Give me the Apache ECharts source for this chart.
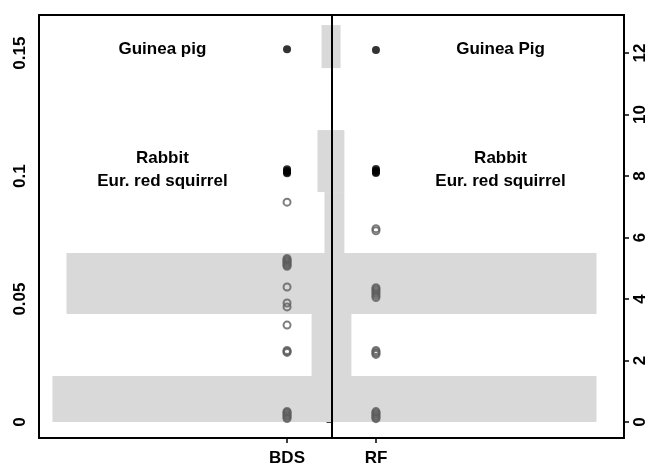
<!DOCTYPE html>
<html>
<head>
<meta charset="utf-8">
<script src="https://cdn.jsdelivr.net/npm/echarts@6/dist/echarts.min.js"></script>
<style>
  html, body { margin: 0; padding: 0; background: #fff; }
  #chart { width: 655px; height: 464px; }
</style>
</head>
<body>
<div id="chart"></div>
<script>
// histogram bins (left-axis units), bar lengths as share of half width
const binEdges = [0, 0.0187, 0.0439, 0.0687, 0.0935, 0.1187, 0.1439, 0.1614];
const bdsWidths = [0.954, 0.068, 0.906, 0.024, 0.048, 0, 0.034];
const rfWidths = [0.906, 0.068, 0.906, 0.044, 0.044, 0, 0.031];

// BDS values (left axis)
const bdsBlack = [0.1516, 0.1028, 0.1022, 0.1016, 0.1012];
const bdsGrey = [0.0894,
                 0.0665, 0.0660, 0.0656, 0.0651, 0.0647, 0.0642, 0.0637, 0.0633,
                 0.0549,
                 0.0484, 0.0468,
                 0.0394,
                 0.0291, 0.0287, 0.0283,
                 0.0043, 0.0039, 0.0034, 0.0029, 0.0024, 0.0019, 0.0014];
// RF values (right axis)
const rfBlack = [12.1, 8.23, 8.18, 8.13, 8.10];
const rfGrey = [6.29, 6.22,
                4.37, 4.33, 4.28, 4.22, 4.17, 4.11, 4.05,
                2.33, 2.28, 2.24, 2.20,
                0.34, 0.30, 0.26, 0.22, 0.18, 0.14, 0.11];

const groupNames = ['BDS', 'RF'];
const leftTicks = [0, 0.05, 0.1, 0.15];
const rightTicks = [0, 2, 4, 6, 8, 10, 12];

const labelsLeft = ['Guinea pig', 'Rabbit\nEur. red squirrel'];
const labelsRight = ['Guinea Pig', 'Rabbit\nEur. red squirrel'];
const labelY = [0.1516, 0.1024];

// layout
const GROUP_X = 0.152;
const TEXT_X = 0.578;
const FONT = 'Liberation Sans, Arial, Helvetica, sans-serif';

const chart = echarts.init(document.getElementById('chart'));

function bins(widths) {
    return widths.map((w, i) => [binEdges[i], binEdges[i + 1], w]);
}

function barItem(side) {
    return function (params, api) {
        const lo = api.value(0), hi = api.value(1), w = api.value(2);
        if (!w) return null;
        const a = api.coord([0, lo]);
        const b = api.coord([side * w, hi]);
        return {
            type: 'rect',
            shape: {
                x: Math.min(a[0], b[0]),
                y: b[1],
                width: Math.abs(b[0] - a[0]),
                height: a[1] - b[1]
            },
            style: { fill: '#d9d9d9' }
        };
    };
}

const textData = labelsLeft.map((t, i) => [-TEXT_X, labelY[i], t])
    .concat(labelsRight.map((t, i) => [TEXT_X, labelY[i], t]));

function textItem(params, api) {
    const d = textData[params.dataIndex];
    const p = api.coord([d[0], d[1]]);
    return {
        type: 'text',
        x: p[0], y: p[1],
        style: {
            text: d[2], fill: '#000', font: 'bold 17px ' + FONT,
            align: 'center', verticalAlign: 'middle', lineHeight: 23
        }
    };
}

const tickStyle = { show: true, length: 5, lineStyle: { color: '#000', width: 1.5 } };
const labelStyle = { color: '#000', fontFamily: FONT, fontWeight: 'bold', fontSize: 17 };
const ringStyle = { color: 'rgba(0,0,0,0)', borderColor: '#5e5e5e', borderWidth: 2 };

const option = {
    backgroundColor: '#fff',
    animation: false,
    grid: {
        left: 39, right: 31, top: 15, bottom: 26,
        outerBoundsMode: 'none',
        show: true, borderColor: '#000', borderWidth: 2, backgroundColor: 'transparent'
    },
    xAxis: {
        type: 'value', min: -1, max: 1,
        splitLine: { show: false },
        axisLine: { show: true, onZero: false, lineStyle: { color: '#000', width: 2 } },
        axisTick: Object.assign({ customValues: [-GROUP_X, GROUP_X] }, tickStyle),
        axisLabel: Object.assign({
            customValues: [-GROUP_X, GROUP_X],
            margin: 12,
            formatter: v => v < 0 ? groupNames[0] : groupNames[1]
        }, labelStyle)
    },
    yAxis: [{
        type: 'value', min: -0.0065, max: 0.1655, position: 'left',
        splitLine: { show: false },
        axisLine: { show: true, lineStyle: { color: '#000', width: 2 } },
        axisTick: Object.assign({ customValues: leftTicks }, tickStyle),
        axisLabel: Object.assign({
            customValues: leftTicks, rotate: 90, margin: 10,
            formatter: v => String(v)
        }, labelStyle)
    }, {
        type: 'value', min: -0.52, max: 13.24, position: 'right',
        splitLine: { show: false },
        axisLine: { show: true, lineStyle: { color: '#000', width: 2 } },
        axisTick: Object.assign({ customValues: rightTicks }, tickStyle),
        axisLabel: Object.assign({
            customValues: rightTicks, rotate: 90, margin: 8,
            formatter: v => String(v)
        }, labelStyle)
    }],
    series: [{
        type: 'custom',
        renderItem: barItem(-1),
        encode: { x: 2, y: [0, 1] },
        data: bins(bdsWidths),
        silent: true,
        z: 1
    }, {
        type: 'custom',
        renderItem: barItem(1),
        encode: { x: 2, y: [0, 1] },
        data: bins(rfWidths),
        silent: true,
        z: 1,
        markLine: {
            silent: true, symbol: 'none', label: { show: false },
            lineStyle: { color: '#000', width: 2, type: 'solid' },
            data: [{ xAxis: 0 }]
        }
    }, {
        type: 'scatter', yAxisIndex: 0,
        symbol: 'circle', symbolSize: 7,
        itemStyle: ringStyle,
        data: bdsGrey.map(v => [-GROUP_X, v]),
        z: 3
    }, {
        type: 'scatter', yAxisIndex: 1,
        symbol: 'circle', symbolSize: 7,
        itemStyle: ringStyle,
        data: rfGrey.map(v => [GROUP_X, v]),
        z: 3
    }, {
        type: 'scatter', yAxisIndex: 0,
        symbol: 'circle', symbolSize: 8,
        itemStyle: { color: '#000' },
        data: bdsBlack.map(v => [-GROUP_X, v]),
        z: 4
    }, {
        type: 'scatter', yAxisIndex: 1,
        symbol: 'circle', symbolSize: 8,
        itemStyle: { color: '#000' },
        data: rfBlack.map(v => [GROUP_X, v]),
        z: 4
    }, {
        type: 'custom',
        renderItem: textItem,
        encode: { x: 0, y: 1 },
        data: textData.map(d => [d[0], d[1]]),
        silent: true,
        z: 5
    }]
};

chart.setOption(option);
</script>
</body>
</html>
